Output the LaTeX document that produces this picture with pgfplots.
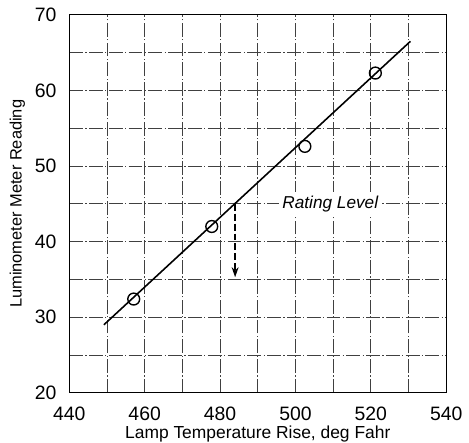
\documentclass[border=0pt]{standalone}
\usepackage{fontspec}
\setmainfont{Liberation Sans}
\usepackage{pgfplots}
\pgfplotsset{compat=1.18}
\usetikzlibrary{arrows.meta}

\begin{document}
\begin{tikzpicture}
	\begin{axis}[
			scale only axis,
			width=190.5pt,
			height=191pt,
			xmin=440, xmax=540,
			ymin=20, ymax=70,
			xtick={440,460,...,540},
			ytick={20,30,...,70},
			minor xtick={450,470,...,530},
			minor ytick={25,35,...,65},
			grid=both,
			major grid style={black!75, line width=0.35pt, dash pattern=on 7pt off 1.2pt on 0.6pt off 1.2pt},
			minor grid style={black!75, line width=0.35pt, dash pattern=on 7pt off 1.2pt on 0.6pt off 1.2pt},
			major tick length=0pt,
			minor tick length=0pt,
			axis line style={line width=0.6pt},
			tick label style={font=\fontsize{9.8}{10}\selectfont},
			/pgf/number format/assume math mode=true,
			/pgf/number format/1000 sep={},
			xticklabel style={yshift=-3.5pt},
			yticklabel style={xshift=-3pt},
			xlabel={Lamp Temperature Rise, deg Fahr},
			ylabel={Luminometer Meter Reading},
			xlabel style={font=\fontsize{8.8}{9}\selectfont, inner sep=0pt, anchor=base,
				at={(axis description cs:0.5,0)}, yshift=-23.3pt},
			ylabel style={font=\fontsize{8.3}{9}\selectfont, yshift=-2pt},
		]
		% fitted line
		\addplot[black, line width=0.8pt] coordinates {(449.2,29.0) (530.5,66.5)};
		% measured points
		\addplot[only marks, mark=o, mark size=3pt,
			mark options={draw=black, fill=white, line width=0.7pt,
				preaction={draw=white, line width=3pt}}]
		coordinates {
				(457.1,32.4)
				(477.8,42.0)
				(502.5,52.6)
				(521.2,62.3)
			};
		% rating level arrow
		\addplot[black, line width=0.75pt, dash pattern=on 3.5pt off 1.5pt, -{Stealth[length=5pt,width=3.5pt]}]
		coordinates {(484,45) (484,35.3)};
		\node[fill=white, inner sep=2pt, font=\itshape\fontsize{8.7}{9}\selectfont, anchor=west]
		at (axis cs:495.4,45) {Rating Level};
	\end{axis}
	\path ([xshift=-35pt,yshift=-25.3pt]current axis.south west)
		rectangle ([xshift=9pt,yshift=7.5pt]current axis.north east);
\end{tikzpicture}
\end{document}
